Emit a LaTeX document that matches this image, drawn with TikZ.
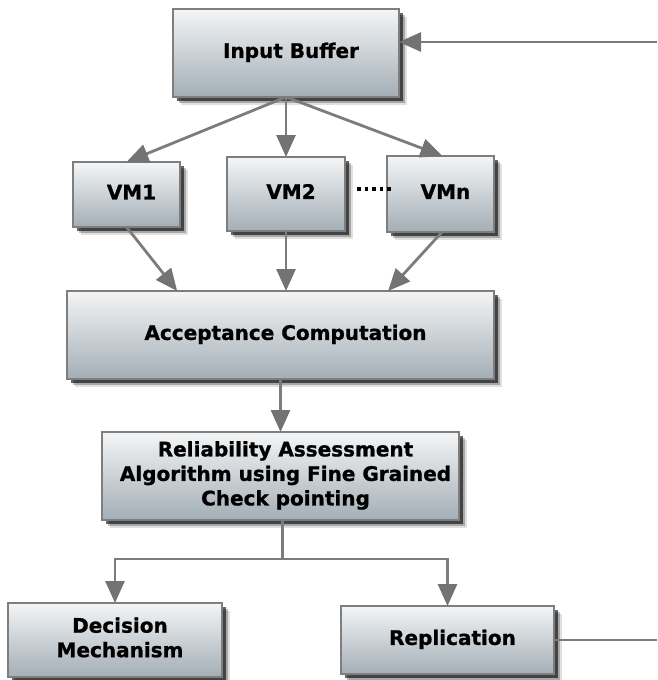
\documentclass[tikz,border=0pt]{standalone}
\usepackage{fontspec}
\setmainfont{DejaVu Sans}[BoldFeatures={FakeBold=1}]
\usetikzlibrary{arrows.meta,shadows,calc}

\definecolor{boxtop}{HTML}{F4F5F6}
\definecolor{boxbot}{HTML}{A3AEB6}
\definecolor{boxline}{HTML}{7E7E7E}
\definecolor{wire}{HTML}{7C7C7C}
\definecolor{tipfill}{HTML}{737373}

% box text, set a little right of the box centre
\newcommand{\boxtext}[1]{\hspace*{10pt}\begin{tabular}{@{}c@{}}#1\end{tabular}}

\tikzset{
  box/.style={draw=boxline, line width=1.3pt, top color=boxtop, bottom color=boxbot,
    inner sep=0pt, outer sep=0pt, align=center,
    font=\bfseries\fontsize{20}{24.5}\selectfont,
    drop shadow={shadow xshift=8pt, shadow yshift=-8pt, fill=black, opacity=0.12},
    drop shadow={shadow xshift=6pt, shadow yshift=-6pt, fill=black, opacity=0.25},
    drop shadow={shadow xshift=4pt, shadow yshift=-4pt, fill=black, opacity=0.6}},
  wireline/.style={draw=wire, line width=2.8pt},
  arr/.style={wireline, -{Triangle[length=22pt,width=19pt,color=tipfill,fill=tipfill]}},
  dotrow/.style={draw=black, line width=3.5pt, dash pattern=on 3.5pt off 4pt}
}

\begin{document}
\begin{tikzpicture}[x=1pt, y=-1pt]
  \useasboundingbox (0,0) rectangle (657,680);

  % boxes
  \node[box, minimum width=226pt, minimum height=88pt] (ib)  at (286,53)    {\boxtext{Input Buffer}};
  \node[box, minimum width=107pt, minimum height=65pt] (vm1) at (126.5,194.5) {\boxtext{VM1}};
  \node[box, minimum width=118pt, minimum height=74pt] (vm2) at (286,194)   {\boxtext{VM2}};
  \node[box, minimum width=107pt, minimum height=76pt] (vmn) at (440.5,194) {\boxtext{VMn}};
  \node[box, minimum width=427pt, minimum height=88pt] (ac)  at (280.5,335) {\boxtext{Acceptance Computation}};
  \node[box, minimum width=357pt, minimum height=88pt] (ra)  at (280.5,476)
    {\boxtext{Reliability Assessment\\Algorithm using Fine Grained\\Check pointing}};
  \node[box, minimum width=214pt, minimum height=74pt] (dm)  at (115,640)   {\boxtext{Decision\\Mechanism}};
  \node[box, minimum width=213pt, minimum height=68pt] (rep) at (447.5,640) {\boxtext{Replication}};

  % feedback wires at the right edge
  \coordinate (in)  at (657,42);
  \coordinate (out) at (657,640);
  \draw[arr] (in) -- (in -| ib.east);
  \draw[wireline] (rep.east) -- (out);

  % input buffer to the virtual machines
  \draw[arr] (ib.south) -- (vm1.north);
  \draw[arr] (ib.south) -- (vm2.north);
  \draw[arr] (ib.south) -- ($(vmn.north)+(2,0)$);

  % virtual machines to acceptance computation
  \draw[arr] (vm1.south) -- ($(ac.north west)!0.258!(ac.north east)$);
  \draw[arr] (vm2.south) -- (vm2.south |- ac.north);
  \draw[arr] ($(vmn.south)+(1.5,0)$) -- ($(ac.north west)!0.752!(ac.north east)$);

  % dotted continuation between VM2 and VMn
  \coordinate (d1) at (357,189);
  \coordinate (d2) at (393,189);
  \draw[dotrow] (d1) -- (d2);

  % acceptance to reliability assessment
  \draw[arr] (ac.south) -- (ra.north);

  % split to decision and replication
  \draw[wireline] ($(ra.south)+(2,0)$) -- ++(0,39) coordinate (j);
  \draw[arr] (j) -| (dm.north);
  \draw[arr] (j) -| (rep.north);
\end{tikzpicture}
\end{document}
